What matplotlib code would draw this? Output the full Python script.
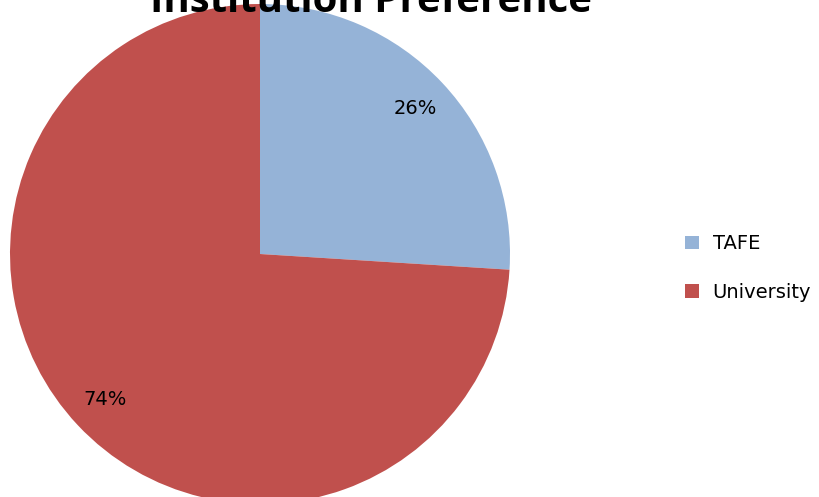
import matplotlib.pyplot as plt

labels = ['TAFE', 'University']
shares = [26, 74]
colors = ['#95B3D7', '#C0504D']

plt.rcParams['font.family'] = ['DejaVu Sans']

fig = plt.figure(figsize=(8.2, 4.97), dpi=100)
W, H = 820, 497

# pie axes placed in pixels: centre (260, 254), radius 250
cx, cy, r = 260, 254, 250
ax = fig.add_axes([(cx - r) / W, (H - cy - r) / H, 2 * r / W, 2 * r / H])
wedges, texts, autotexts = ax.pie(shares, colors=colors, startangle=90, counterclock=False,
                                  autopct='%.0f%%', pctdistance=0.85, radius=1,
                                  textprops={'fontsize': 14, 'color': 'black'})
for w in wedges:
    w.set_clip_on(False)
ax.set_xlim(-1, 1)
ax.set_ylim(-1, 1)
ax.set_aspect('equal')
ax.axis('off')

# title sits partly above the top edge, as in the original
fig.text(371 / W, 1 - 2 / H, 'Institution Preference', ha='center', va='center',
         fontsize=29, fontweight='bold', family=['Open Sans', 'DejaVu Sans'])

fig.legend(wedges, labels, loc='center left', bbox_to_anchor=(668 / W, 1 - 268 / H),
           frameon=False, fontsize=14, handlelength=0.7, handleheight=0.7,
           labelspacing=1.5, handletextpad=0.7)

fig.savefig('out.png', dpi=100)
